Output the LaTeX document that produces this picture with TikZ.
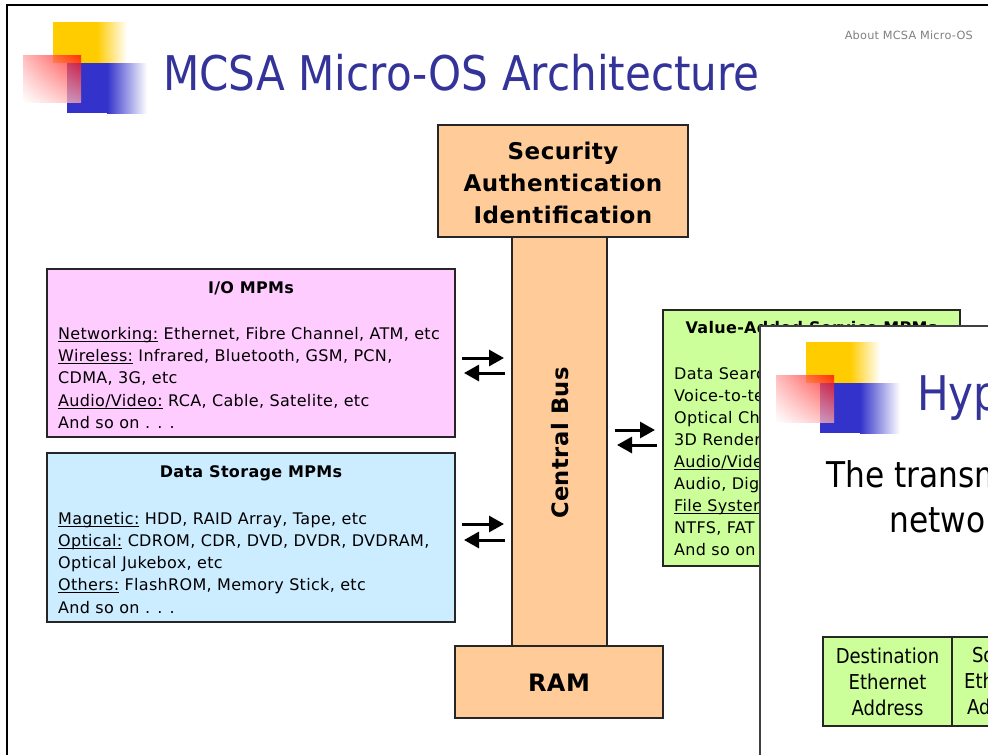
\documentclass[tikz,border=0pt]{standalone}
\usepackage{fontspec}
\setmainfont{DejaVu Sans}[LetterSpace=2]
\newfontfamily\boldface{DejaVu Sans Bold}[LetterSpace=2]
\newfontfamily\slidefont{DejaVu Sans}[FakeStretch=0.88]
\usetikzlibrary{arrows.meta,calc,shadings}

\definecolor{titleblue}{HTML}{333399}
\definecolor{logoyellow}{HTML}{FFCC00}
\definecolor{logoblue}{HTML}{3333CC}
\definecolor{busorange}{HTML}{FFCC99}
\definecolor{iopink}{HTML}{FFCCFF}
\definecolor{storeblue}{HTML}{CCECFF}
\definecolor{servgreen}{HTML}{CCFF99}
\definecolor{footgray}{HTML}{808080}

% underline sitting at a fixed depth below the baseline
\newcommand\ulword[1]{\setbox0\hbox{#1}\rlap{\rule[-3.2pt]{\wd0}{1.2pt}}\box0\relax}

\tikzset{
  panel/.style={draw=black!85, line width=1.3pt, inner sep=0pt},
  txt/.style={inner sep=0pt, anchor=base west, font=\fontsize{16}{16}\selectfont},
  boxhead/.style={inner sep=0pt, anchor=base, font=\boldface\fontsize{16}{16}\selectfont},
  bigbold/.style={inner sep=0pt, font=\boldface\fontsize{23}{32}\selectfont, align=center},
  flow/.style={line width=3pt, -{Triangle[length=15pt,width=16pt]}},
  logo/.pic={
    \fill[logoyellow] (0,0) rectangle (44,41);
    \shade[left color=logoyellow, right color=white] (44,0) rectangle (74,41);
    \fill[logoblue] (14,41) rectangle (54,91);
    \shade[left color=logoblue, right color=white] (54,41) rectangle (94,91);
    \shade[fill opacity=0.75, upper right=red, lower left=white,
           upper left=red!35!white, lower right=red!35!white] (-30,33) rectangle (28,80);
  }
}

\begin{document}
\begin{tikzpicture}[x=1pt, y=-1pt]
\useasboundingbox (0,0) rectangle (988,755);
\clip (0,0) rectangle (988,755);
\fill[white] (0,0) rectangle (988,755);

% slide frame
\draw[line width=2pt, black] (7,760) -- (7,5) -- (995,5);

% slide header
\pic at (53,22) {logo};
\node[inner sep=0pt, anchor=base west, text=titleblue, font=\slidefont\fontsize{47.8}{47.8}\selectfont]
  (title) at (163,90) {MCSA Micro-OS Architecture};
\node[inner sep=0pt, anchor=base east, text=footgray, font=\fontsize{11.3}{12}\selectfont]
  (about) at (973,39) {About MCSA Micro-OS};

% central bus, security block and RAM
\node[panel, fill=busorange, minimum width=95, minimum height=409] (bus) at (559.5,441.5) {};
\node[inner sep=0pt, rotate=90, font=\boldface\fontsize{22.6}{22.6}\selectfont] (buslabel) at (560,443) {Central Bus};
\node[panel, fill=busorange, minimum width=250, minimum height=112] (sec) at (563,181) {};
\node[bigbold] (sectext) at (563,183) {Security\\Authentication\\Identification};
\node[panel, fill=busorange, minimum width=208, minimum height=72] (ram) at (559,682) {};
\node[inner sep=0pt, font=\boldface\fontsize{24}{24}\selectfont] (ramtext) at (559,683) {RAM};

% I/O modules
\node[panel, fill=iopink, minimum width=408, minimum height=168] (io) at (251,353) {};
\node[boxhead] (iohead) at (251,293) {I/O MPMs};
\node[txt] (io1) at (58,339) {\ulword{Networking:} Ethernet, Fibre Channel, ATM, etc};
\node[txt] (io2) at (58,361) {\ulword{Wireless:} Infrared, Bluetooth, GSM, PCN,};
\node[txt] (io3) at (58,383) {CDMA, 3G, etc};
\node[txt] (io4) at (58,406) {\ulword{Audio/Video:} RCA, Cable, Satelite, etc};
\node[txt] (io5) at (58,428) {And so on . . .};

% data storage modules
\node[panel, fill=storeblue, minimum width=408, minimum height=169] (ds) at (251,537.5) {};
\node[boxhead] (dshead) at (251,477) {Data Storage MPMs};
\node[txt] (ds1) at (58,524) {\ulword{Magnetic:} HDD, RAID Array, Tape, etc};
\node[txt] (ds2) at (58,546) {\ulword{Optical:} CDROM, CDR, DVD, DVDR, DVDRAM,};
\node[txt] (ds3) at (58,568) {Optical Jukebox, etc};
\node[txt] (ds4) at (58,590) {\ulword{Others:} FlashROM, Memory Stick, etc};
\node[txt] (ds5) at (58,613) {And so on . . .};

% value-added service modules
\node[panel, fill=servgreen, minimum width=297, minimum height=256] (vas) at (811.5,438) {};
\node[boxhead] (vashead) at (811.5,333) {Value-Added Service MPMs};
\node[txt] (vas1) at (674,379) {Data Search};
\node[txt] (vas2) at (674,401) {Voice-to-text};
\node[txt] (vas3) at (674,423) {Optical Char};
\node[txt] (vas4) at (674,445) {3D Render};
\node[txt] (vas5) at (674,467) {\ulword{Audio/Video:}};
\node[txt] (vas6) at (674,489) {Audio, Digital};
\node[txt] (vas7) at (674,511) {\ulword{File System:}};
\node[txt] (vas8) at (674,533) {NTFS, FAT};
\node[txt] (vas9) at (674,555) {And so on};

% bidirectional links to the bus
\coordinate (p1a) at (462,358); \coordinate (p1b) at (504,358);
\coordinate (p1c) at (505,373); \coordinate (p1d) at (464,373);
\coordinate (p2a) at (462,524); \coordinate (p2b) at (504,524);
\coordinate (p2c) at (505,540); \coordinate (p2d) at (464,540);
\coordinate (p3a) at (615,430); \coordinate (p3b) at (655,430);
\coordinate (p3c) at (657,445); \coordinate (p3d) at (617,445);
\draw[flow] (p1a) -- (p1b);
\draw[flow] (p1c) -- (p1d);
\draw[flow] (p2a) -- (p2b);
\draw[flow] (p2c) -- (p2d);
\draw[flow] (p3a) -- (p3b);
\draw[flow] (p3c) -- (p3d);

% next slide lying on top
\fill[white] (760,326) rectangle (995,760);
\draw[line width=1.5pt, black!75] (760,760) -- (760,326) -- (995,326);
\pic at (806,342) {logo};
\node[inner sep=0pt, anchor=base west, text=titleblue, font=\slidefont\fontsize{47.8}{47.8}\selectfont]
  (title2) at (917,410) {Hyp};
\node[inner sep=0pt, anchor=base west, font=\slidefont\fontsize{35.5}{35.5}\selectfont]
  (line1) at (826,487) {The transm};
\node[inner sep=0pt, anchor=base west, font=\slidefont\fontsize{35.5}{35.5}\selectfont]
  (line2) at (889,532) {netwo};
\node[panel, fill=servgreen, minimum width=129, minimum height=89, align=center,
      font=\slidefont\fontsize{20.5}{26}\selectfont] (dest) at (887.5,681.5) {Destination\\Ethernet\\Address};
\node[panel, fill=servgreen, minimum width=102, minimum height=89, align=center,
      font=\slidefont\fontsize{20.5}{26}\selectfont] (src) at (1003,681.5) {Source\\Ethernet\\Address};
\end{tikzpicture}
\end{document}
